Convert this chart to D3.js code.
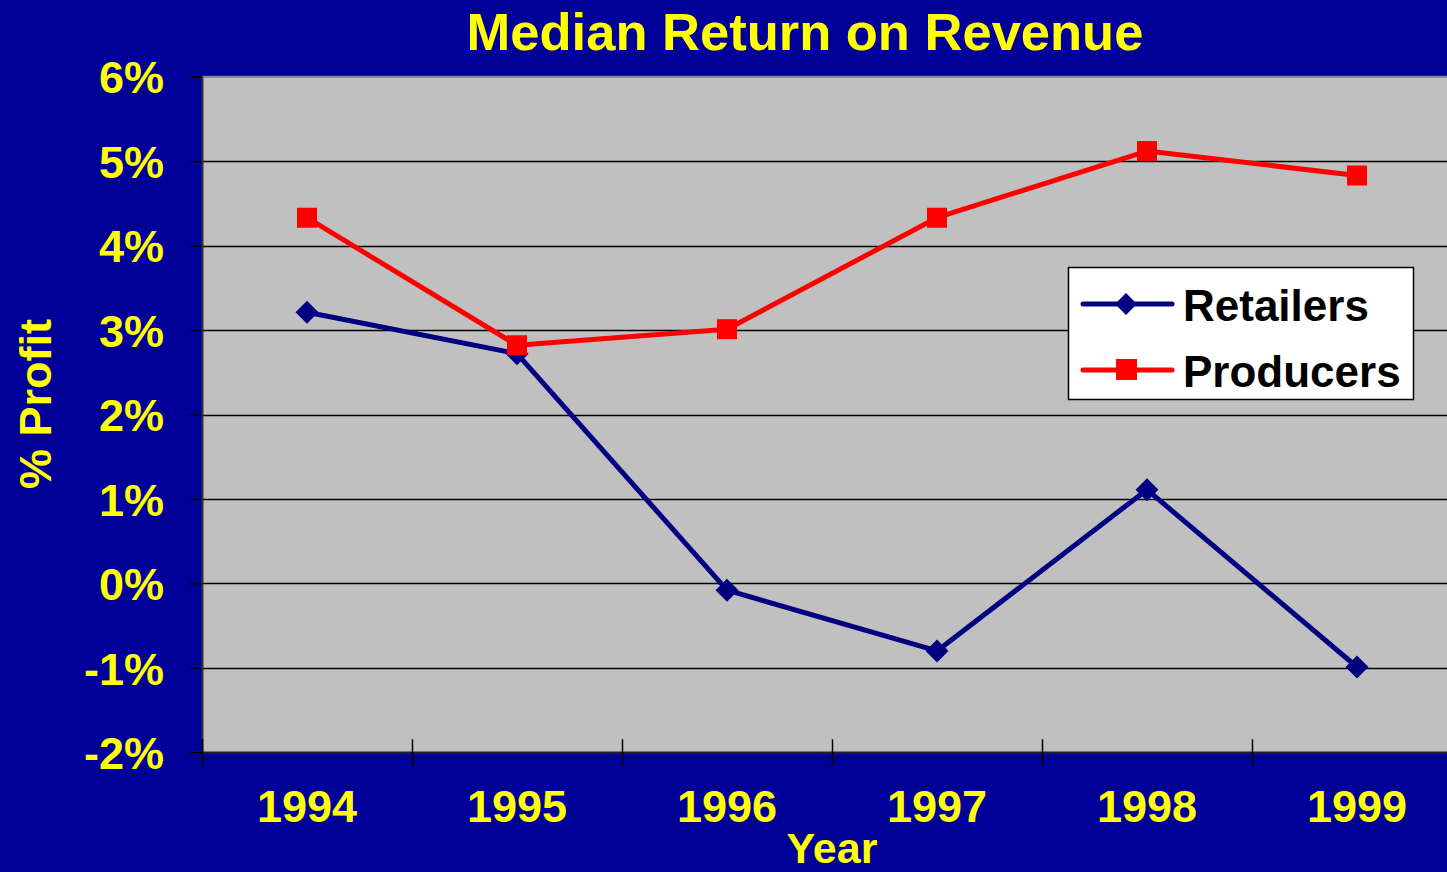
<!DOCTYPE html>
<html>
<head>
<meta charset="utf-8">
<script src="https://cdn.jsdelivr.net/npm/d3@7"></script>
<style>
  html, body { margin: 0; padding: 0; background: #000099; overflow: hidden; }
  text { font-family: "Liberation Sans", Arial, sans-serif; font-weight: bold; }
</style>
</head>
<body>
<div class="holder"></div>
<script>
// values (% profit)
var years = ["1994", "1995", "1996", "1997", "1998", "1999"]
var retailers = [3.21, 2.72, -0.08, -0.80, 1.11, -0.99]
var producers = [4.33, 2.82, 3.01, 4.33, 5.12, 4.83]
var yTicks = [-2, -1, 0, 1, 2, 3, 4, 5, 6]

var width = 1447,
    height = 872;

var svg = d3.select(".holder").append("svg")
    .attr("width", width)
    .attr("height", height)

svg.append("rect")
    .attr("width", width)
    .attr("height", height)
    .style("fill", "#000099")

// plot area runs past the right edge, like the original slide
var x = d3.scaleBand().domain(years).range([202, 202 + 6 * 210]).padding(0)
var y = d3.scaleLinear().domain([-2, 6]).range([752.3, 76.7])

svg.append("rect")
    .attr("x", x.range()[0])
    .attr("y", y(6))
    .attr("width", x.range()[1] - x.range()[0])
    .attr("height", y(-2) - y(6))
    .style("fill", "#C0C0C0")

// gridlines
svg.append("g")
    .selectAll("line")
    .data(yTicks.filter(d => d > -2 && d < 6))
    .enter().append("line")
    .attr("x1", x.range()[0])
    .attr("x2", width)
    .attr("y1", d => Math.round(y(d)) + 0.5)
    .attr("y2", d => Math.round(y(d)) + 0.5)
    .style("stroke", "#000")
    .style("stroke-width", 1.5)

// top border
svg.append("line")
    .attr("x1", x.range()[0]).attr("x2", width)
    .attr("y1", y(6)).attr("y2", y(6))
    .style("stroke", "#808080")
    .style("stroke-width", 2)

// y axis
var yAxis = svg.append("g")
    .attr("transform", "translate(" + x.range()[0] + ",0)")
    .call(d3.axisLeft(y).tickValues(yTicks).tickSize(12).tickPadding(26)
        .tickFormat(d => d + "%"))
yAxis.select(".domain").style("stroke", "#333").style("stroke-width", 2)
yAxis.selectAll(".tick line").style("stroke", "#000").style("stroke-width", 1.5)
yAxis.selectAll("text")
    .style("fill", "#FFFF00")
    .style("font-size", "45px")
    .attr("dy", "0.36em")

// x axis: ticks between categories, crossing the axis line
var xAxis = svg.append("g")
    .attr("transform", "translate(0," + y(-2) + ")")
    .call(d3.axisBottom(x).tickSize(0).tickPadding(38))
xAxis.select(".domain").style("stroke", "#222").style("stroke-width", 2.5)
xAxis.selectAll("text")
    .style("fill", "#FFFF00")
    .style("font-size", "45px")
    .attr("dy", "0.71em")

svg.append("g")
    .selectAll("line")
    .data(years)
    .enter().append("line")
    .attr("x1", d => x(d) + 0.5)
    .attr("x2", d => x(d) + 0.5)
    .attr("y1", y(-2) - 13)
    .attr("y2", y(-2) + 14)
    .style("stroke", "#000")
    .style("stroke-width", 1.5)

var line = d3.line()
    .x((d, i) => x(years[i]) + x.bandwidth() / 2)
    .y(d => y(d))

function drawSeries(vals, color, marker) {
    svg.append("path")
        .datum(vals)
        .attr("d", line)
        .style("fill", "none")
        .style("stroke", color)
        .style("stroke-width", 5)
        .style("stroke-linejoin", "round")

    var g = svg.append("g")
    vals.forEach(function(v, i) {
        var cx = x(years[i]) + x.bandwidth() / 2
        var cy = y(v)
        if (marker == "square") {
            g.append("rect")
                .attr("x", cx - 10).attr("y", cy - 10)
                .attr("width", 20).attr("height", 20)
                .style("fill", color)
        } else {
            g.append("path")
                .attr("d", "M0,-11.5L11.5,0L0,11.5L-11.5,0Z")
                .attr("transform", "translate(" + cx + "," + cy + ")")
                .style("fill", color)
        }
    })
}

drawSeries(retailers, "#000080", "diamond")
drawSeries(producers, "#FF0000", "square")

// legend
var legend = svg.append("g")
legend.append("rect")
    .attr("x", 1068.5).attr("y", 267.5)
    .attr("width", 345).attr("height", 132)
    .style("fill", "#fff")
    .style("stroke", "#000")
    .style("stroke-width", 1.5)

var items = [
    {name: "Retailers", color: "#000080", marker: "diamond", y: 304},
    {name: "Producers", color: "#FF0000", marker: "square", y: 370}
]
items.forEach(function(it) {
    legend.append("line")
        .attr("x1", 1083).attr("x2", 1172)
        .attr("y1", it.y).attr("y2", it.y)
        .style("stroke", it.color)
        .style("stroke-width", 5)
        .style("stroke-linecap", "round")
    if (it.marker == "square") {
        legend.append("rect")
            .attr("x", 1116).attr("y", it.y - 11)
            .attr("width", 21).attr("height", 21)
            .style("fill", it.color)
    } else {
        legend.append("path")
            .attr("d", "M0,-11L11,0L0,11L-11,0Z")
            .attr("transform", "translate(1126," + it.y + ")")
            .style("fill", it.color)
    }
    legend.append("text")
        .attr("x", 1183)
        .attr("y", it.y + 17)
        .text(it.name)
        .style("fill", "#000")
        .style("font-size", "44px")
})

// titles
svg.append("text")
    .attr("x", 805)
    .attr("y", 50)
    .attr("text-anchor", "middle")
    .text("Median Return on Revenue")
    .style("fill", "#FFFF00")
    .style("font-size", "52.5px")

svg.append("text")
    .attr("x", 832)
    .attr("y", 863)
    .attr("text-anchor", "middle")
    .text("Year")
    .style("fill", "#FFFF00")
    .style("font-size", "43px")

svg.append("text")
    .attr("transform", "translate(51,404) rotate(-90)")
    .attr("text-anchor", "middle")
    .text("% Profit")
    .style("fill", "#FFFF00")
    .style("font-size", "45px")
</script>
</body>
</html>
